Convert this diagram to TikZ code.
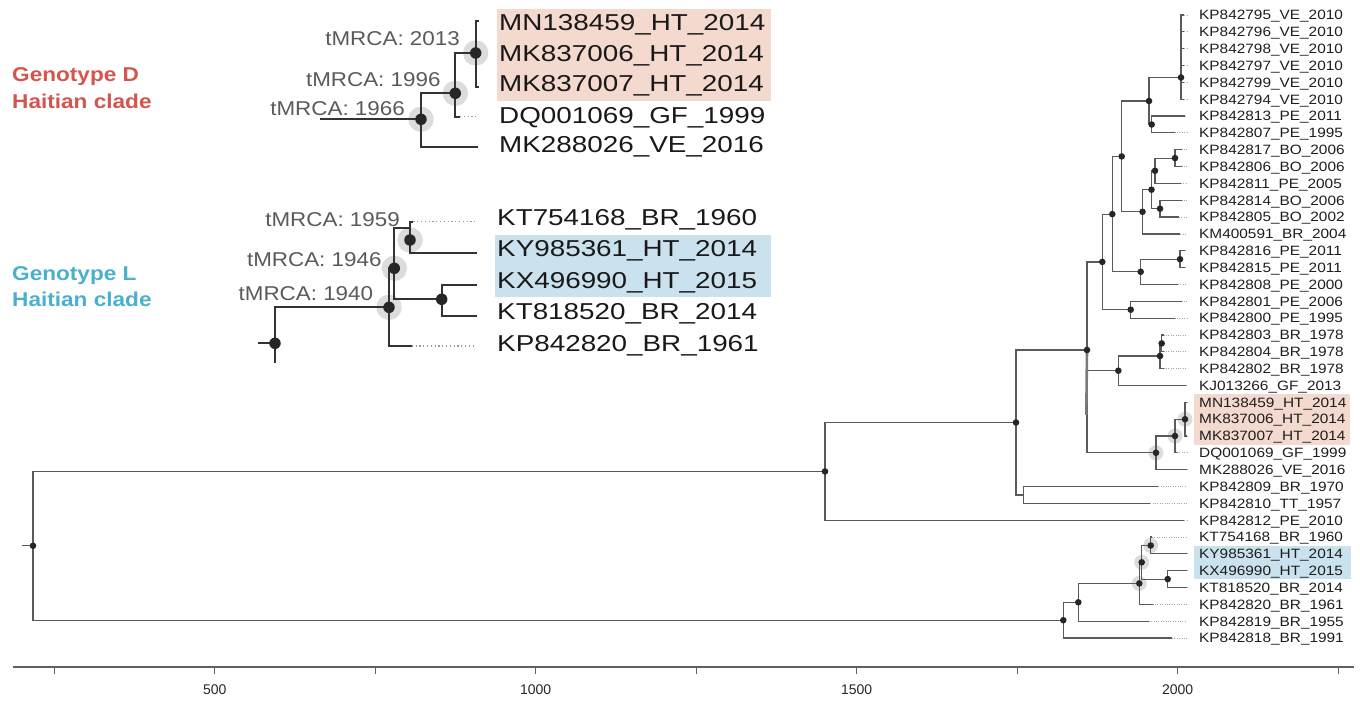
\documentclass[tikz,border=0pt]{standalone}
\usepackage{fontspec}
\setmainfont{Liberation Sans}
\newfontfamily\rtfont[FakeStretch=1.14]{Liberation Sans}
\newfontfamily\insetfont[FakeStretch=1.21]{Liberation Sans}
\newfontfamily\tmfont[FakeStretch=1.12]{Liberation Sans}
\newfontfamily\gtfont[FakeStretch=1.13]{Liberation Sans}
\definecolor{brc}{HTML}{5A5A5A}
\definecolor{ibc}{HTML}{333333}
\definecolor{dotc}{HTML}{262626}
\definecolor{haloc}{HTML}{DCDCDC}
\definecolor{pinkbg}{HTML}{F3D9CE}
\definecolor{bluebg}{HTML}{C9E2EE}
\definecolor{redtxt}{HTML}{D2554F}
\definecolor{bluetxt}{HTML}{4AB0CE}
\definecolor{labc}{HTML}{1E1E1E}
\definecolor{tmc}{HTML}{5A5A5A}
\tikzset{
  branch/.style={draw=brc, line width=1.2pt},
  ibranch/.style={draw=ibc, line width=2pt},
  tipdots/.style={draw=gray!70, line width=0.8pt, dash pattern=on 0.8pt off 1.6pt},
  itipdots/.style={draw=gray!80, line width=1.2pt, dash pattern=on 1.2pt off 2.6pt},
  nd/.style={circle, fill=dotc, inner sep=0pt, minimum size=6.6pt},
  ind/.style={circle, fill=dotc, inner sep=0pt, minimum size=11.5pt},
  rlab/.style={anchor=base west, inner sep=0pt, text=labc, font=\rtfont\fontsize{13.5}{15}\selectfont},
  ilab/.style={anchor=base west, inner sep=0pt, text=black!90, font=\insetfont\fontsize{23}{26}\selectfont},
  tmlab/.style={anchor=base east, inner sep=0pt, text=tmc, font=\tmfont\fontsize{20}{22}\selectfont},
  gtlab/.style={anchor=base west, inner sep=0pt, font=\gtfont\bfseries\fontsize{20}{22}\selectfont},
  axlab/.style={anchor=center, inner sep=0pt, text=black!85, font=\fontsize{14}{16}\selectfont},
  axline/.style={draw=gray!75!black, line width=1.4pt},
}
\newcommand{\rleaf}[4]{%
  \coordinate (t#1) at ({1177.7+0.642*(#2-2000)},{15+(#1-1)*16.84});
  \coordinate (e#1) at (1187,{15+(#1-1)*16.84});
  \draw[branch] (#3) |- (t#1);
  \draw[tipdots] (t#1) -- (e#1);
  \node[rlab] (l#1) at (1199,{15+(#1-1)*16.84+4.8}) {#4};
}
\newcommand{\rdot}[1]{\node[nd] (d#1) at (#1) {};}
\newcommand{\rhalo}[1]{\fill[haloc] (#1) circle (7.5);}
\newcommand{\ihalo}[1]{\fill[haloc] (#1) circle (12.7);}
\newcommand{\idot}[1]{\node[ind] (d#1) at (#1) {};}
\begin{document}
\begin{tikzpicture}[x=1pt,y=-1pt]
\useasboundingbox (0,0) rectangle (1360,704);
% ---------- highlight boxes ----------
\fill[pinkbg] (1194,394) rectangle (1350,445);
\fill[bluebg] (1194,545.5) rectangle (1351,579);
\fill[pinkbg] (497,9) rectangle (771,101);
\fill[bluebg] (495,235) rectangle (771,297);
% ---------- right tree internal nodes ----------
\coordinate (VE) at (1181,77.5);
\coordinate (PEp) at (1151.7,124.5);
\coordinate (VEPE) at (1149,101);
\coordinate (D1) at (1175,158.1);
\coordinate (D2) at (1155,170.8);
\coordinate (D3) at (1160,208.7);
\coordinate (D4) at (1151.5,189.7);
\coordinate (D5) at (1142.5,211.8);
\coordinate (A) at (1121.7,156.4);
\coordinate (PP) at (1180,259.2);
\coordinate (C) at (1140.7,271.8);
\coordinate (B) at (1112.3,214.1);
\coordinate (F) at (1130.7,309.7);
\coordinate (E) at (1102.3,261.9);
\coordinate (N) at (1161.7,343.4);
\coordinate (M) at (1160,356);
\coordinate (H) at (1118.3,370.7);
\coordinate (Q) at (1185,419.2);
\coordinate (P) at (1175,436);
\coordinate (J) at (1156,452.8);
\coordinate (G) at (1087,350);
\coordinate (Gb) at (1086.3,415);
\coordinate (L) at (1023.3,495);
\coordinate (K) at (1016,422.5);
\coordinate (Z) at (825,471.4);
\coordinate (R1) at (1150.7,545.5);
\coordinate (R3) at (1167.7,579.1);
\coordinate (R2) at (1141.7,562.3);
\coordinate (R4) at (1139.3,583.4);
\coordinate (R5) at (1078.3,602.3);
\coordinate (R6) at (1063.3,620.2);
\coordinate (root) at (33,545.8);
\coordinate (rstub) at (22,545.8);
% halos
\rhalo{J}\rhalo{P}\rhalo{Q}\rhalo{R1}\rhalo{R2}\rhalo{R4}
% internal branches
\draw[branch] (rstub) -- (root);
\draw[branch] (root) |- (Z);
\draw[branch] (root) |- (R6);
\draw[branch] (Z) |- (K);
\draw[branch] (K) |- (G);
\draw[branch] (K) |- (L);
\draw[branch] (G) |- (E);
\draw[branch] (G) |- (H);
\draw[branch] (G) |- (J);
\draw[draw=brc!80, line width=2.6pt] (G) -- (Gb);
\draw[branch] (E) |- (B);
\draw[branch] (E) |- (F);
\draw[branch] (B) |- (A);
\draw[branch] (B) |- (C);
\draw[branch] (A) |- (VEPE);
\draw[branch] (A) |- (D5);
\draw[branch] (VEPE) |- (VE);
\draw[branch] (VEPE) |- (PEp);
\draw[branch] (D5) |- (D4);
\draw[branch] (D4) |- (D2);
\draw[branch] (D4) |- (D3);
\draw[branch] (D2) |- (D1);
\draw[branch] (C) |- (PP);
\draw[branch] (H) |- (M);
\draw[branch] (M) |- (N);
\draw[branch] (J) |- (P);
\draw[branch] (P) |- (Q);
\draw[branch] (R6) |- (R5);
\draw[branch] (R5) |- (R4);
\draw[branch] (R4) |- (R2);
\draw[branch] (R2) |- (R1);
\draw[branch] (R2) |- (R3);
% leaves
\rleaf{1}{2010}{VE}{KP842795\_VE\_2010}
\rleaf{2}{2010}{VE}{KP842796\_VE\_2010}
\rleaf{3}{2010}{VE}{KP842798\_VE\_2010}
\rleaf{4}{2010}{VE}{KP842797\_VE\_2010}
\rleaf{5}{2010}{VE}{KP842799\_VE\_2010}
\rleaf{6}{2010}{VE}{KP842794\_VE\_2010}
\rleaf{7}{2011}{PEp}{KP842813\_PE\_2011}
\rleaf{8}{1995}{PEp}{KP842807\_PE\_1995}
\rleaf{9}{2006}{D1}{KP842817\_BO\_2006}
\rleaf{10}{2006}{D1}{KP842806\_BO\_2006}
\rleaf{11}{2005}{D2}{KP842811\_PE\_2005}
\rleaf{12}{2006}{D3}{KP842814\_BO\_2006}
\rleaf{13}{2002}{D3}{KP842805\_BO\_2002}
\rleaf{14}{2004}{D5}{KM400591\_BR\_2004}
\rleaf{15}{2011}{PP}{KP842816\_PE\_2011}
\rleaf{16}{2011}{PP}{KP842815\_PE\_2011}
\rleaf{17}{2000}{C}{KP842808\_PE\_2000}
\rleaf{18}{2006}{F}{KP842801\_PE\_2006}
\rleaf{19}{1995}{F}{KP842800\_PE\_1995}
\rleaf{20}{1978}{N}{KP842803\_BR\_1978}
\rleaf{21}{1978}{N}{KP842804\_BR\_1978}
\rleaf{22}{1978}{M}{KP842802\_BR\_1978}
\rleaf{23}{2013}{H}{KJ013266\_GF\_2013}
\rleaf{24}{2014}{Q}{MN138459\_HT\_2014}
\rleaf{25}{2014}{Q}{MK837006\_HT\_2014}
\rleaf{26}{2014}{Q}{MK837007\_HT\_2014}
\rleaf{27}{1999}{P}{DQ001069\_GF\_1999}
\rleaf{28}{2016}{J}{MK288026\_VE\_2016}
\rleaf{29}{1970}{L}{KP842809\_BR\_1970}
\rleaf{30}{1957}{L}{KP842810\_TT\_1957}
\rleaf{31}{2010}{Z}{KP842812\_PE\_2010}
\rleaf{32}{1960}{R1}{KT754168\_BR\_1960}
\rleaf{33}{2014}{R1}{KY985361\_HT\_2014}
\rleaf{34}{2015}{R3}{KX496990\_HT\_2015}
\rleaf{35}{2014}{R3}{KT818520\_BR\_2014}
\rleaf{36}{1961}{R4}{KP842820\_BR\_1961}
\rleaf{37}{1955}{R5}{KP842819\_BR\_1955}
\rleaf{38}{1991}{R6}{KP842818\_BR\_1991}
% dots
\rdot{VE}\rdot{PEp}\rdot{VEPE}\rdot{D1}\rdot{D2}\rdot{D3}\rdot{D4}\rdot{D5}
\rdot{A}\rdot{PP}\rdot{C}\rdot{B}\rdot{F}\rdot{E}\rdot{N}\rdot{M}\rdot{H}
\rdot{Q}\rdot{P}\rdot{J}\rdot{G}\rdot{K}\rdot{Z}\rdot{root}
\rdot{R1}\rdot{R2}\rdot{R3}\rdot{R4}\rdot{R5}\rdot{R6}
% ---------- axis ----------
\coordinate (axL) at (13,667);
\coordinate (axR) at (1354,667);
\draw[axline] (axL) -- (axR);
\foreach \yr in {250,500,...,2250}{
  \draw[draw=gray!75!black, line width=1pt] ({1177.7+0.642*(\yr-2000)},667) -- ++(0,7);
}
\foreach \yr in {500,1000,1500,2000}{
  \node[axlab] (ax\yr) at ({1177.7+0.642*(\yr-2000)},690) {\yr};
}
% ---------- inset D ----------
\coordinate (Qd) at (475.7,53);
\coordinate (Pd) at (455.3,93.3);
\coordinate (Jd) at (421,119.3);
\coordinate (stemD) at (320,119.3);
\coordinate (td1) at (479,21);
\coordinate (td2) at (479,53);
\coordinate (td3) at (479,87);
\coordinate (td4s) at (460,116.7);
\coordinate (td4e) at (477,116.7);
\coordinate (td5) at (478.3,146.7);
\ihalo{Qd}\ihalo{Pd}\ihalo{Jd}
\draw[ibranch] (Qd) |- (td1);
\draw[ibranch] (Qd) |- (td3);
\draw[ibranch] (Qd) -- (td2);
\draw[ibranch] (Pd) |- (Qd);
\draw[ibranch] (Pd) |- (td4s);
\draw[itipdots] (td4s) -- (td4e);
\draw[ibranch] (Jd) |- (Pd);
\draw[ibranch] (Jd) |- (td5);
\draw[ibranch] (stemD) -- (Jd);
\idot{Qd}\idot{Pd}\idot{Jd}
\node[ilab] (ld1) at (499,30.7) {MN138459\_HT\_2014};
\node[ilab] (ld2) at (499,61.7) {MK837006\_HT\_2014};
\node[ilab] (ld3) at (499,91) {MK837007\_HT\_2014};
\node[ilab] (ld4) at (499,123) {DQ001069\_GF\_1999};
\node[ilab] (ld5) at (499,152) {MK288026\_VE\_2016};
\node[tmlab] (tmd1) at (460,45.7) {tMRCA: 2013};
\node[tmlab] (tmd2) at (440.7,86) {tMRCA: 1996};
\node[tmlab] (tmd3) at (405,115) {tMRCA: 1966};
% ---------- inset L ----------
\coordinate (R1l) at (410,240);
\coordinate (R1in) at (410,228.3);
\coordinate (R2l) at (394.3,268.3);
\coordinate (R3l) at (441.7,299.3);
\coordinate (R4l) at (389,307.3);
\coordinate (rootL) at (275,343.3);
\coordinate (stubL) at (258.3,343.3);
\coordinate (downL) at (275,363.3);
\coordinate (tl1s) at (413.3,221.7);
\coordinate (tl1e) at (475,221.7);
\coordinate (tl2) at (476.7,253.3);
\coordinate (tl3) at (476.7,285);
\coordinate (tl4) at (476.7,316);
\coordinate (tl5s) at (411.7,346);
\coordinate (tl5e) at (475,346);
\ihalo{R1l}\ihalo{R2l}\ihalo{R4l}
\draw[ibranch] (R1l) |- (tl1s);
\draw[itipdots] (tl1s) -- (tl1e);
\draw[ibranch] (R1l) |- (tl2);
\draw[ibranch] (R2l) |- (R1in);
\draw[ibranch] (R2l) |- (R3l);
\draw[ibranch] (R3l) |- (tl3);
\draw[ibranch] (R3l) |- (tl4);
\draw[ibranch] (R4l) |- (R2l);
\draw[ibranch] (R4l) |- (tl5s);
\draw[itipdots] (tl5s) -- (tl5e);
\draw[ibranch] (rootL) |- (R4l);
\draw[ibranch] (stubL) -- (rootL);
\draw[ibranch] (rootL) -- (downL);
\idot{R1l}\idot{R2l}\idot{R3l}\idot{R4l}\idot{rootL}
\node[ilab] (ll1) at (497,225) {KT754168\_BR\_1960};
\node[ilab] (ll2) at (497,256.5) {KY985361\_HT\_2014};
\node[ilab] (ll3) at (497,288) {KX496990\_HT\_2015};
\node[ilab] (ll4) at (497,319) {KT818520\_BR\_2014};
\node[ilab] (ll5) at (497,351) {KP842820\_BR\_1961};
\node[tmlab] (tml1) at (400,226.7) {tMRCA: 1959};
\node[tmlab] (tml2) at (381.7,266) {tMRCA: 1946};
\node[tmlab] (tml3) at (373.3,300) {tMRCA: 1940};
% ---------- genotype labels ----------
\node[gtlab, text=redtxt] (gd1) at (12,81.7) {Genotype D};
\node[gtlab, text=redtxt] (gd2) at (12,108.3) {Haitian clade};
\node[gtlab, text=bluetxt] (gl1) at (12,280) {Genotype L};
\node[gtlab, text=bluetxt] (gl2) at (12,306.7) {Haitian clade};
\end{tikzpicture}
\end{document}
